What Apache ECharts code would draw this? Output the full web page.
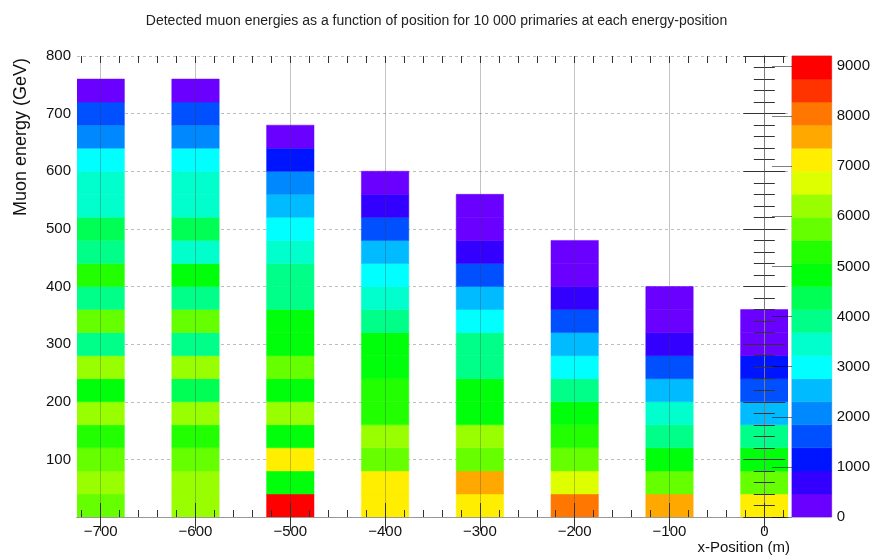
<!DOCTYPE html>
<html>
<head>
<meta charset="utf-8">
<script src="https://cdn.jsdelivr.net/npm/echarts@6/dist/echarts.min.js"></script>
<style>
  html, body { margin: 0; padding: 0; background: #fff; }
  #chart { width: 873px; height: 558px; }
</style>
</head>
<body>
<div id="chart"></div>
<script>
// Detector x positions (m); each column is one position bin, 50 m wide
const xPositions = [-700, -600, -500, -400, -300, -200, -100, 0];
const positionBinWidth = 50;

// Muon energy bins are 40 GeV wide, listed from 0 GeV upward
const energyBinGeV = 40;

// Detected muon counts per energy bin, one array per position
const counts_m700 = [5750, 6200, 5750, 5300, 6200, 4800, 6200, 3900, 5750, 3900, 5300, 3900, 4350, 3450, 3450, 3000, 2050, 1600, 200];
const counts_m600 = [6200, 6200, 5750, 5300, 6200, 4350, 6200, 3900, 5750, 3900, 4800, 3450, 4350, 3450, 3450, 3000, 2050, 1600, 200];
const counts_m500 = [9000, 4800, 7150, 4800, 6200, 4800, 5750, 4800, 4800, 3900, 3900, 3450, 3000, 2500, 2050, 1150, 200];
const counts_m400 = [7150, 7150, 5750, 6200, 5300, 5300, 4800, 4800, 3900, 3450, 3000, 2500, 1600, 700, 200];
const counts_m300 = [7150, 7600, 5750, 6200, 4800, 4800, 3900, 3900, 3000, 2500, 1600, 700, 200, 200];
const counts_m200 = [8050, 6650, 5750, 5300, 4800, 3900, 3000, 2500, 1600, 700, 200, 200];
const counts_m100 = [7600, 5750, 4800, 3900, 3450, 2500, 1600, 700, 200, 200];
const counts_0    = [7150, 5750, 4800, 3900, 2500, 1600, 1150, 200, 200];
const columnCounts = [counts_m700, counts_m600, counts_m500, counts_m400, counts_m300, counts_m200, counts_m100, counts_0];

// Axis tick labels
const xTickLabels = [-700, -600, -500, -400, -300, -200, -100, 0];
const colorbarTicks = [0, 1000, 2000, 3000, 4000, 5000, 6000, 7000, 8000, 9000];

// Rainbow palette, 20 contour levels from 0 to zMax
const zMax = 9200;
const paletteColors = [
  '#6a00ff', '#3300ff', '#0015ff', '#0050ff', '#0088ff',
  '#00bbff', '#00ffff', '#00ffcc', '#00ff88', '#00ff55',
  '#00ff0a', '#22ff00', '#66ff00', '#99ff00', '#ddff00',
  '#ffee00', '#ffa800', '#ff7700', '#ff3300', '#ff0000'
];
const levelStep = zMax / paletteColors.length;

// Build [x, energyLow, count] cells
const cells = [];
xPositions.forEach((x, ci) => {
  columnCounts[ci].forEach((c, bi) => cells.push([x, bi * energyBinGeV, c]));
});
// Colour bar bands: [low, high, mid]
const bands = paletteColors.map((_, i) => [i * levelStep, (i + 1) * levelStep, (i + 0.5) * levelStep]);

// Minor tick positions along x (every 20 m)
const minorX = [];
for (let v = -720; v <= 20; v += 20) minorX.push(v);

const FONT = 'Liberation Sans';
const tickColor = '#333';
const minus = v => String(v).replace('-', '\u2212');

const chart = echarts.init(document.getElementById('chart'));
chart.setOption({
  animation: false,
  backgroundColor: '#fff',
  textStyle: { fontFamily: FONT },
  title: {
    text: 'Detected muon energies as a function of position for 10 000 primaries at each energy-position',
    left: 'center', top: 9,
    textStyle: { fontFamily: FONT, fontSize: 14, fontWeight: 'normal', color: '#222' }
  },
  grid: [
    { left: 77, top: 56, width: 711, height: 461, show: false },
    { left: 792, top: 56, width: 41, height: 461, show: true, borderColor: '#bbb', borderWidth: 1 }
  ],
  visualMap: {
    type: 'piecewise', show: false, dimension: 2, seriesIndex: [0, 1],
    pieces: paletteColors.map((c, i) => i === paletteColors.length - 1
      ? { gte: i * levelStep, lte: zMax, color: c }
      : { gte: i * levelStep, lt: (i + 1) * levelStep, color: c })
  },
  xAxis: [
    { gridIndex: 0, type: 'value', position: 'bottom', min: -725, max: 25, z: 3,
      axisLine: { show: true, lineStyle: { color: '#666', width: 1 } },
      axisTick: { show: true, inside: true, length: 14, customValues: xTickLabels, lineStyle: { color: tickColor } },
      axisLabel: { show: true, customValues: xTickLabels, fontSize: 15, margin: 7, color: '#111', formatter: minus },
      splitLine: { show: false } },
    { gridIndex: 0, type: 'value', position: 'bottom', min: -725, max: 25, z: 3,
      axisLine: { show: false },
      axisTick: { show: true, inside: true, length: 7, customValues: minorX, lineStyle: { color: tickColor } },
      axisLabel: { show: false }, splitLine: { show: false } },
    { gridIndex: 0, type: 'value', position: 'top', min: -725, max: 25, z: 3,
      axisLine: { show: true, lineStyle: { color: '#999', width: 1 } },
      axisTick: { show: true, inside: true, length: 14, customValues: xTickLabels, lineStyle: { color: tickColor } },
      axisLabel: { show: false }, splitLine: { show: false } },
    { gridIndex: 0, type: 'value', position: 'top', min: -725, max: 25, z: 3,
      axisLine: { show: false },
      axisTick: { show: true, inside: true, length: 7, customValues: minorX, lineStyle: { color: tickColor } },
      axisLabel: { show: false }, splitLine: { show: false } },
    { gridIndex: 1, type: 'value', min: 0, max: 1, show: false }
  ],
  yAxis: [
    { gridIndex: 0, type: 'value', position: 'left', min: 0, max: 800, interval: 100, z: 0,
      axisLine: { show: true, lineStyle: { color: '#666', width: 1 } },
      axisTick: { show: false },
      axisLabel: { show: true, fontSize: 15, margin: 6, color: '#111', showMinLabel: false },
      splitLine: { show: true, lineStyle: { color: '#bdbdbd', type: [3, 3], width: 1 } } },
    { gridIndex: 0, type: 'value', position: 'left', min: 0, max: 800, interval: 100, z: 3,
      axisLine: { show: false },
      axisTick: { show: true, inside: true, length: 21, lineStyle: { color: tickColor } },
      minorTick: { show: true, splitNumber: 5, length: 10.5, lineStyle: { color: tickColor } },
      axisLabel: { show: false }, splitLine: { show: false } },
    { gridIndex: 0, type: 'value', position: 'right', min: 0, max: 800, interval: 100, z: 3,
      axisLine: { show: true, lineStyle: { color: '#999', width: 1 } },
      axisTick: { show: true, inside: true, length: 21, lineStyle: { color: tickColor } },
      minorTick: { show: true, splitNumber: 5, length: 10.5, lineStyle: { color: tickColor } },
      axisLabel: { show: false }, splitLine: { show: false } },
    { gridIndex: 1, type: 'value', position: 'right', min: 0, max: zMax, z: 3,
      axisLine: { show: false },
      axisTick: { show: true, inside: true, length: 20, customValues: colorbarTicks, lineStyle: { color: 'rgba(0,0,0,0.5)' } },
      axisLabel: { show: true, customValues: colorbarTicks, fontSize: 15, margin: 5, color: '#111',
                   formatter: v => String(Math.round(v)) },
      splitLine: { show: false } }
  ],
  series: [
    {
      type: 'custom', xAxisIndex: 0, yAxisIndex: 0, clip: true,
      encode: { x: 0, y: 1 },
      data: cells,
      renderItem: (params, api) => {
        const x = api.value(0), y0 = api.value(1);
        const p0 = api.coord([x - positionBinWidth / 2, y0 + energyBinGeV]);
        const p1 = api.coord([x + positionBinWidth / 2, y0]);
        const color = api.visual('color');
        return {
          type: 'rect',
          shape: { x: p0[0], y: p0[1], width: p1[0] - p0[0], height: p1[1] - p0[1] },
          style: { fill: color, stroke: color, lineWidth: 0.5 }
        };
      },
      markLine: {
        silent: true, symbol: 'none', label: { show: false },
        lineStyle: { color: 'rgba(60,60,60,0.3)', type: 'solid', width: 1 },
        data: xTickLabels.map(v => ({ xAxis: v }))
      }
    },
    {
      type: 'custom', xAxisIndex: 4, yAxisIndex: 3,
      data: bands,
      renderItem: (params, api) => {
        const p0 = api.coord([0, api.value(1)]);
        const p1 = api.coord([1, api.value(0)]);
        const color = api.visual('color');
        return {
          type: 'rect',
          shape: { x: p0[0], y: p0[1], width: p1[0] - p0[0], height: p1[1] - p0[1] },
          style: { fill: color, stroke: color, lineWidth: 0.5 }
        };
      }
    }
  ],
  graphic: [
    { type: 'text', x: 21, y: 137, rotation: Math.PI / 2,
      style: { text: 'Muon energy (GeV)', font: '18px "Liberation Sans"', fill: '#111',
               textAlign: 'center', textVerticalAlign: 'middle' } },
    { type: 'text', x: 790, y: 548,
      style: { text: 'x-Position (m)', font: '15px "Liberation Sans"', fill: '#111',
               textAlign: 'right', textVerticalAlign: 'middle' } }
  ]
});
</script>
</body>
</html>
